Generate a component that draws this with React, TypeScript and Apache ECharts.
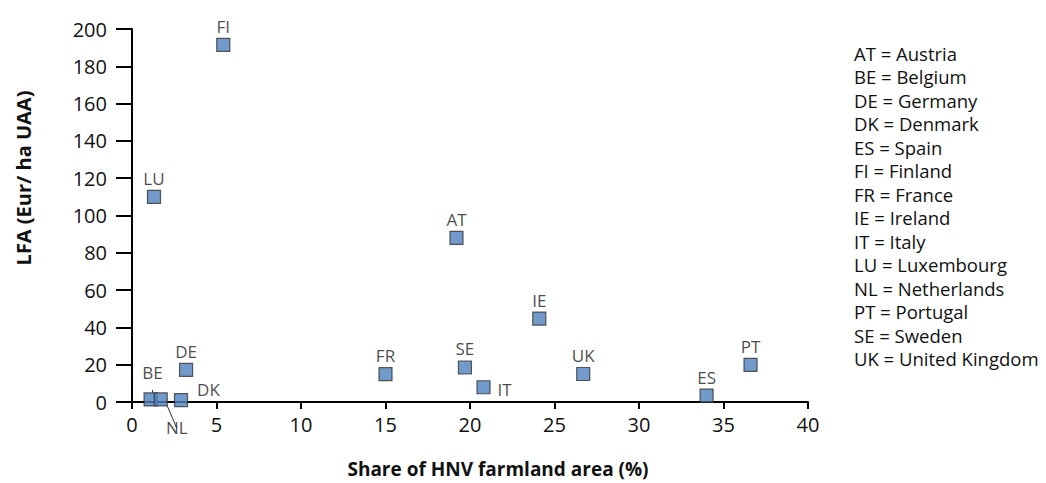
import React, { useEffect, useRef } from "react";
import * as echarts from "echarts";

const codes = ["FI", "LU", "DE", "BE", "NL", "DK", "FR", "AT", "SE", "IT", "IE", "UK", "ES", "PT"];
const hnvShare = [5.4, 1.3, 3.2, 1.1, 1.7, 2.9, 15.0, 19.2, 19.7, 20.8, 24.1, 26.7, 34.0, 36.6];
const lfaPayment = [191.5, 110, 17.2, 1.4, 1.4, 1.0, 14.9, 88, 18.5, 7.9, 44.7, 15.0, 3.4, 19.9];
const legendLines = [
  "AT = Austria",
  "BE = Belgium",
  "DE = Germany",
  "DK = Denmark",
  "ES = Spain",
  "FI = Finland",
  "FR = France",
  "IE = Ireland",
  "IT = Italy",
  "LU = Luxembourg",
  "NL = Netherlands",
  "PT = Portugal",
  "SE = Sweden",
  "UK = United Kingdom",
];
const xTitle = "Share of HNV farmland area (%)";
const yTitle = "LFA (Eur/ ha UAA)";

const FONT = "'Open Sans', 'Noto Sans', sans-serif";

const labelStyles: Record<string, any> = {
  DK: { position: "right", offset: [6, -11] },
  IT: { position: "right", offset: [4, 2] },
  NL: { position: "bottom", offset: [16, 10] },
  BE: { position: "top", offset: [2, -8] },
};

export default function App() {
  const ref = useRef<HTMLDivElement>(null);
  useEffect(() => {
    if (!ref.current) return;
    const chart = echarts.init(ref.current, undefined, { renderer: "svg" });
    const data = codes.map((c, i) => {
      const ls = labelStyles[c] || { position: "top" };
      const item: any = {
        name: c,
        value: [hnvShare[i], lfaPayment[i]],
        label: {
          show: true,
          formatter: c,
          position: ls.position,
          offset: ls.offset,
          distance: 3,
          color: "#1a1a1a",
          fontFamily: FONT,
          fontSize: 17,
        },
      };
      if (c === "BE" || c === "NL") {
        item.labelLine = { show: true, lineStyle: { color: "#333", width: 1 } };
      }
      return item;
    });
    chart.setOption({
      animation: false,
      grid: { left: 132, right: 238, top: 29, bottom: 81 },
      xAxis: {
        type: "value",
        min: 0,
        max: 40,
        interval: 5,
        splitLine: { show: false },
        axisLine: { show: true, onZero: false, lineStyle: { color: "#000", width: 2 } },
        axisTick: { show: true, inside: false, length: 7, lineStyle: { color: "#000", width: 2 } },
        axisLabel: { fontFamily: FONT, fontSize: 20, color: "#111", margin: 12 },
      },
      yAxis: {
        type: "value",
        min: 0,
        max: 200,
        interval: 20,
        splitLine: { show: false },
        axisLine: { show: true, onZero: false, lineStyle: { color: "#000", width: 2 } },
        axisTick: { show: true, inside: false, length: 16, lineStyle: { color: "#000", width: 2 } },
        axisLabel: { fontFamily: FONT, fontSize: 20, color: "#111", margin: 25 },
      },
      series: [
        {
          type: "scatter",
          symbol: "rect",
          symbolSize: 13,
          itemStyle: { color: "#4f81bd", borderColor: "#333", borderWidth: 1.2 },
          label: { show: true, fontFamily: FONT, fontSize: 17, color: "#1a1a1a" },
          labelLine: { show: false },
          data,
        },
      ],
      graphic: [
        {
          type: "text",
          x: 498,
          y: 469,
          style: {
            text: xTitle,
            font: `bold 19px ${FONT}`,
            fill: "#111",
            align: "center",
            verticalAlign: "middle",
          },
        },
        {
          type: "text",
          x: 23,
          y: 178,
          rotation: Math.PI / 2,
          style: {
            text: yTitle,
            font: `bold 20px ${FONT}`,
            fill: "#111",
            align: "center",
            verticalAlign: "middle",
          },
        },
        ...legendLines.map((t, i) => ({
          type: "text",
          x: 854,
          y: 53 + i * 23.5,
          style: { text: t, font: `18.5px ${FONT}`, fill: "#111", verticalAlign: "middle" },
        })),
      ],
    });
    return () => chart.dispose();
  }, []);
  return (
    <div
      ref={ref}
      style={{ position: "absolute", left: 0, top: 0, width: 1046, height: 483 }}
    />
  );
}
